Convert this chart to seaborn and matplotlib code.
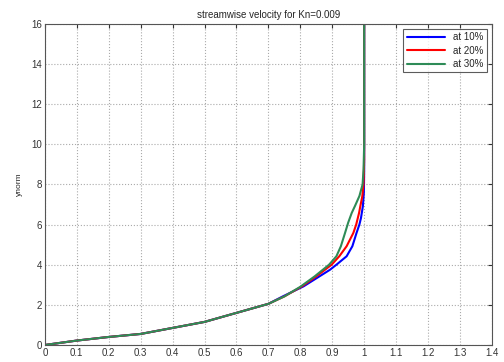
import matplotlib
matplotlib.use("Agg")
import matplotlib.pyplot as plt
import seaborn as sns
import pandas as pd

title = "streamwise velocity for Kn=0.009"
ylabel = "ynorm"
labels = ["at 10%", "at 20%", "at 30%"]
colors = ["#0000ff", "#ff0000", "#2e8b57"]

y10 = [0, 0.22, 0.4, 0.55, 0.85, 1.15, 1.6, 2.05, 2.42, 2.92, 3.42, 3.75, 4.0, 4.42, 4.92, 5.58, 6.0, 6.33, 6.92, 7.6, 8.67, 16]
u10 = [0, 0.1, 0.2, 0.3, 0.4, 0.5, 0.6, 0.7, 0.745, 0.81, 0.86, 0.893, 0.913, 0.945, 0.963, 0.976, 0.985, 0.99, 0.996, 0.999, 1.0, 1.0]
y20 = [0, 0.22, 0.4, 0.55, 0.85, 1.15, 1.6, 2.05, 2.42, 2.92, 3.42, 4.0, 4.42, 4.92, 5.58, 6.0, 6.58, 6.92, 7.4, 8.0, 9.25, 16]
u20 = [0, 0.1, 0.2, 0.3, 0.4, 0.5, 0.6, 0.7, 0.75, 0.805, 0.85, 0.898, 0.922, 0.945, 0.966, 0.975, 0.984, 0.988, 0.994, 0.998, 1.0, 1.0]
y30 = [0, 0.22, 0.4, 0.55, 0.85, 1.15, 1.6, 2.05, 2.42, 2.9, 3.42, 4.0, 4.42, 4.92, 5.58, 6.1, 6.58, 6.92, 7.42, 8.0, 8.75, 10.0, 16]
u30 = [0, 0.1, 0.2, 0.3, 0.4, 0.5, 0.6, 0.7, 0.75, 0.8, 0.845, 0.89, 0.913, 0.927, 0.94, 0.95, 0.961, 0.971, 0.985, 0.995, 0.998, 1.0, 1.0]

frames = []
for lab, u, y in zip(labels, [u10, u20, u30], [y10, y20, y30]):
    frames.append(pd.DataFrame({"u": u, "y": y, "series": lab}))
df = pd.concat(frames, ignore_index=True)

sns.set_style("white")
plt.rcParams["font.family"] = ["Liberation Sans", "DejaVu Sans"]

fig = plt.figure(figsize=(5.04, 3.62), dpi=100)
ax = fig.add_axes([0.089, 0.047, 0.887, 0.887])

sns.lineplot(data=df, x="u", y="y", hue="series", palette=colors, sort=False,
             estimator=None, units="series", linewidth=1.5, ax=ax)

ax.set_xlim(0, 1.4)
ax.set_ylim(0, 16)
ax.set_xticks([i / 10 for i in range(15)])
ax.set_xticklabels(["0", "0.1", "0.2", "0.3", "0.4", "0.5", "0.6", "0.7", "0.8", "0.9", "1", "1.1", "1.2", "1.3", "1.4"])
ax.set_yticks(range(0, 17, 2))
ax.grid(True, linestyle=":", color="#aaaaaa", linewidth=0.8)
ax.tick_params(direction="in", length=3, labelsize=7, top=True, right=True, colors="#333333", pad=2)
for s in ax.spines.values():
    s.set_color("#555555")
    s.set_linewidth(0.8)
ax.set_xlabel("")
ax.set_ylabel(ylabel, fontsize=6, labelpad=6)
ax.set_title(title, fontsize=7, pad=4)
leg = ax.legend(loc="upper right", fontsize=7, frameon=True, fancybox=False,
                edgecolor="#333333", borderaxespad=0.5, handlelength=4,
                labelspacing=0.35, borderpad=0.35, title=None)
leg.get_frame().set_linewidth(0.8)

fig.savefig("out.png", dpi=100, facecolor="white")
